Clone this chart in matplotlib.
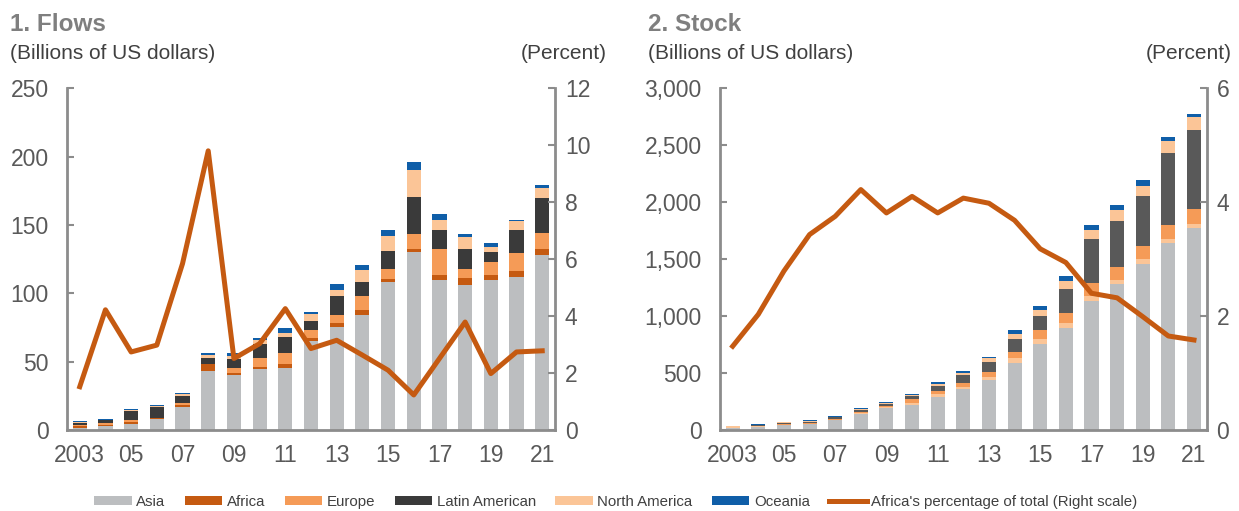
import numpy as np
import matplotlib
matplotlib.use("Agg")
import matplotlib.pyplot as plt
from matplotlib.ticker import FuncFormatter

years = list(range(2003, 2022))
tick_labels = ["2003", "05", "07", "09", "11", "13", "15", "17", "19", "21"]

# 1. Flows (billions of US dollars)
flow_asia = [1.5, 3, 4.4, 7.8, 16.5, 43, 40, 44.5, 45.5, 65, 75, 84, 108, 130, 110, 106, 110, 112, 128]
flow_africa = [1.2, 0.5, 1.5, 1, 1.5, 5, 1.5, 1.5, 2.5, 2, 3.5, 3.5, 2.5, 2.5, 3.5, 5, 3, 4.5, 4.5]
flow_europe = [1.0, 1.3, 1.5, 0.3, 2, 0.5, 3.5, 7, 8, 6, 5.5, 10.5, 7.5, 11, 19, 6.5, 10, 13, 11.5]
flow_latam = [1.3, 2.2, 6.5, 7.8, 5, 4.5, 7, 10, 12, 6.5, 14, 10, 13, 27, 14, 15, 7, 17, 26]
flow_namerica = [0.5, 0.3, 1, 0.8, 1, 1.5, 2, 3, 3, 5, 4.5, 9, 11, 20, 7, 8.5, 3.5, 6, 7]
flow_oceania = [0.8, 0.5, 0.8, 0.8, 0.8, 1.5, 2.5, 1.5, 3.5, 1.5, 4.5, 4, 4, 5.5, 4.5, 2, 3, 1.2, 2]
flow_africa_pct = [1.52, 4.22, 2.74, 2.98, 5.84, 9.8, 2.51, 3.03, 4.26, 2.86, 3.15, 2.63, 2.10,
                   1.23, 2.51, 3.79, 1.98, 2.74, 2.78]

# 2. Stock (billions of US dollars)
stock_asia = [20, 30, 40, 50, 85, 140, 190, 219, 292, 357, 438, 590, 751, 897, 1132, 1278, 1453, 1643, 1771]
stock_africa = [3, 3, 4, 4, 6, 8, 10, 21, 21, 17, 24, 39, 44, 44, 44, 38, 44, 35, 41]
stock_europe = [3, 3, 5, 5, 9, 10, 12, 32, 26, 35, 49, 58, 82, 88, 117, 117, 117, 119, 128]
stock_latam = [4, 5, 12, 12, 12, 18, 20, 29, 47, 76, 88, 108, 125, 205, 379, 405, 437, 634, 695]
stock_namerica = [3, 4, 5, 7, 6, 6, 8, 6, 17, 18, 30, 47, 50, 72, 82, 91, 94, 105, 111]
stock_oceania = [5, 5, 7, 7, 7, 8, 8, 6, 15, 14, 14, 35, 35, 44, 46, 46, 46, 35, 29]
stock_africa_pct = [1.47, 2.03, 2.79, 3.43, 3.75, 4.22, 3.81, 4.10, 3.81, 4.07, 3.98, 3.68, 3.18,
                    2.94, 2.40, 2.32, 1.99, 1.65, 1.58]

names = ["Asia", "Africa", "Europe", "Latin American", "North America", "Oceania"]
c_asia = "#bcbec0"
c_africa = "#c55a11"
c_europe = "#f59b57"
c_latam = "#3a3a3a"
c_namer = "#fbc597"
c_ocean = "#0f5ea8"
txt = "#595959"
spine_c = "#8c8c8c"

plt.rcParams["font.family"] = ["Liberation Sans Narrow", "Liberation Sans", "DejaVu Sans"]

fig = plt.figure(figsize=(12.39, 5.11), dpi=100)
ax1 = fig.add_axes([0.054, 0.1585, 0.394, 0.669])
ax2 = fig.add_axes([0.581, 0.1585, 0.393, 0.669])

x = np.arange(len(years))
w = 0.55


def draw(ax, series, colors, pct, ymax, yticks, rmax, rticks, fmt):
    bottom = np.zeros(len(x))
    for vals, col, nm in zip(series, colors, names):
        ax.bar(x, vals, w, bottom=bottom, color=col, label=nm, zorder=2)
        bottom += np.array(vals)
    ax.set_xlim(-0.5, len(x) - 0.5)
    ax.set_ylim(0, ymax)
    ax.set_yticks(yticks)
    ax.yaxis.set_major_formatter(FuncFormatter(fmt))
    ax.set_xticks(x[::2])
    ax.set_xticklabels(tick_labels)
    ax.tick_params(axis="y", direction="in", length=5, width=1.5, color=spine_c,
                   labelsize=16.5, labelcolor=txt, pad=13)
    ax.tick_params(axis="x", length=0, labelsize=16.5, labelcolor=txt, pad=10)
    for s in ["left", "bottom"]:
        ax.spines[s].set_color(spine_c)
        ax.spines[s].set_linewidth(2)
    ax.spines["top"].set_visible(False)
    ax.spines["right"].set_visible(False)

    axr = ax.twinx()
    axr.plot(x, pct, color=c_africa, lw=3.6, zorder=3,
             label="Africa's percentage of total (Right scale)")
    axr.set_ylim(0, rmax)
    axr.set_yticks(rticks)
    axr.tick_params(axis="y", direction="in", length=5, width=1.5, color=spine_c,
                    labelsize=16.5, labelcolor=txt, pad=7)
    axr.spines["right"].set_color(spine_c)
    axr.spines["right"].set_linewidth(2)
    for s in ["top", "left", "bottom"]:
        axr.spines[s].set_visible(False)
    return axr


draw(ax1, [flow_asia, flow_africa, flow_europe, flow_latam, flow_namerica, flow_oceania],
     [c_asia, c_africa, c_europe, c_latam, c_namer, c_ocean], flow_africa_pct,
     250, range(0, 251, 50), 12, range(0, 13, 2), lambda v, p: f"{v:.0f}")
axr2 = draw(ax2, [stock_asia, stock_africa, stock_europe, stock_latam, stock_namerica, stock_oceania],
            [c_asia, c_namer, c_europe, "#595959", c_namer, c_ocean], stock_africa_pct,
            3000, range(0, 3001, 500), 6, range(0, 7, 2), lambda v, p: f"{v:,.0f}")

# titles and units
for xl, xr, title in [(0.008, 0.49, "1. Flows"), (0.523, 0.994, "2. Stock")]:
    fig.text(xl, 0.952, title, fontsize=17.5, fontweight="bold", color="#7f7f7f",
             family=["Liberation Sans", "DejaVu Sans"], va="center")
    fig.text(xl, 0.896, "(Billions of US dollars)", fontsize=15, color="#404040", va="center")
    fig.text(xr, 0.896, "(Percent)", fontsize=15, color="#404040", va="center", ha="right")

# legend built from the flows panel colours
handles, labels = ax1.get_legend_handles_labels()
lh, ll = axr2.get_legend_handles_labels()
fig.legend(handles + lh, labels + ll, loc="lower center", bbox_to_anchor=(0.497, -0.022),
           ncol=7, frameon=False, fontsize=10.8, labelcolor="#404040",
           handlelength=2.5, handleheight=0.6, handletextpad=0.3, columnspacing=1.3)

fig.savefig("out.png", dpi=100)
